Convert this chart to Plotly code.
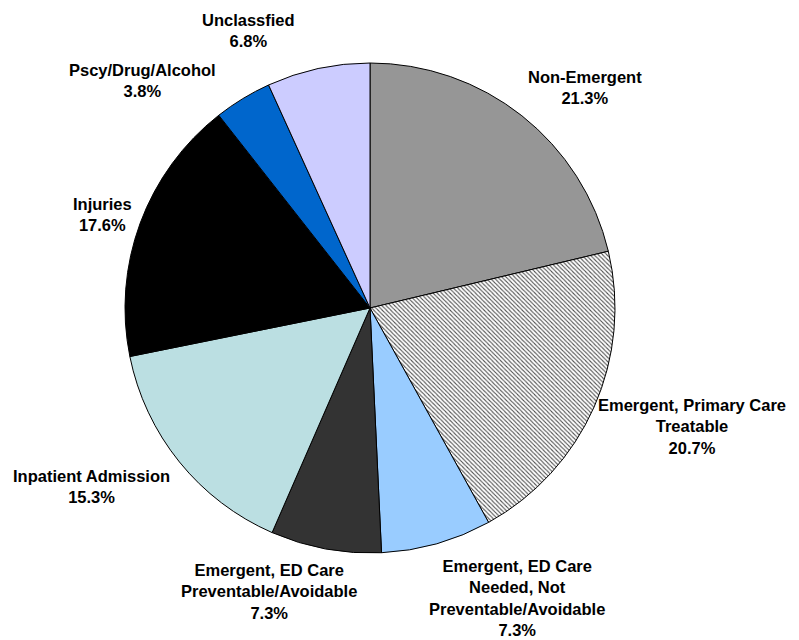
import math
import plotly.graph_objects as go

categories = [
    "Non-Emergent",
    "Emergent, Primary Care<br>Treatable",
    "Emergent, ED Care<br>Needed, Not<br>Preventable/Avoidable",
    "Emergent, ED Care<br>Preventable/Avoidable",
    "Inpatient Admission",
    "Injuries",
    "Pscy/Drug/Alcohol",
    "Unclassfied",
]
values = [21.3, 20.7, 7.3, 7.3, 15.3, 17.6, 3.8, 6.8]
colors = ["#969696", "#FFFFFF", "#99CCFF", "#333333", "#BBDFE2", "#000000", "#0066CC", "#CCCCFF"]
patterns = ["", "\\", "", "", "", "", "", ""]

# layout geometry
W, H = 799, 640
ML, MR, MT, MB = 117, 192, 55, 95
PW, PH = W - ML - MR, H - MT - MB
CX, CY = ML + PW / 2, MT + PH / 2
R = min(PW, PH) / 2
FS = 16.5
LINE_H = 21

# label placement tweaks (Excel-like collision spreading)
label_gap = [28, 12, 30, 19, 24, 5, 32, 33]
label_dangle = [3, 0.5, -7.8, 6, 1, 0, -9, -9.6]

fig = go.Figure(go.Pie(
    labels=categories,
    values=values,
    sort=False,
    direction="clockwise",
    rotation=0,
    marker=dict(
        colors=colors,
        line=dict(color="#000000", width=1),
        pattern=dict(shape=patterns, fgcolor="#505050", bgcolor="#FFFFFF", size=3, solidity=0.35),
    ),
    textinfo="none",
    showlegend=False,
    hoverinfo="label+value",
    automargin=False,
))

total = sum(values)
cum = 0.0
annotations = []
for i, (lab, v) in enumerate(zip(categories, values)):
    mid = (cum + v / 2) / total * 360.0
    cum += v
    th = math.radians(mid + label_dangle[i])
    ux, uy = math.sin(th), -math.cos(th)
    lines = lab.split("<br>")
    w = 0.55 * 16 * max(len(s) for s in lines)
    h = (len(lines) + 1) * LINE_H
    d = R + label_gap[i]
    bx = CX + d * ux + ux * w / 2
    by = CY + d * uy + uy * h / 2
    annotations.append(dict(
        x=(bx - ML) / PW, y=1 - (by - MT) / PH,
        xref="paper", yref="paper",
        xanchor="center", yanchor="middle",
        text=lab + "<br>" + f"{v:.1f}%",
        showarrow=False, align="center",
        font=dict(family="Liberation Sans, Arial", size=FS, color="#000000", weight="bold"),
    ))

fig.update_layout(
    width=W, height=H,
    margin=dict(l=ML, r=MR, t=MT, b=MB),
    paper_bgcolor="#FFFFFF",
    plot_bgcolor="#FFFFFF",
    annotations=annotations,
)

fig.write_html("out.html")
